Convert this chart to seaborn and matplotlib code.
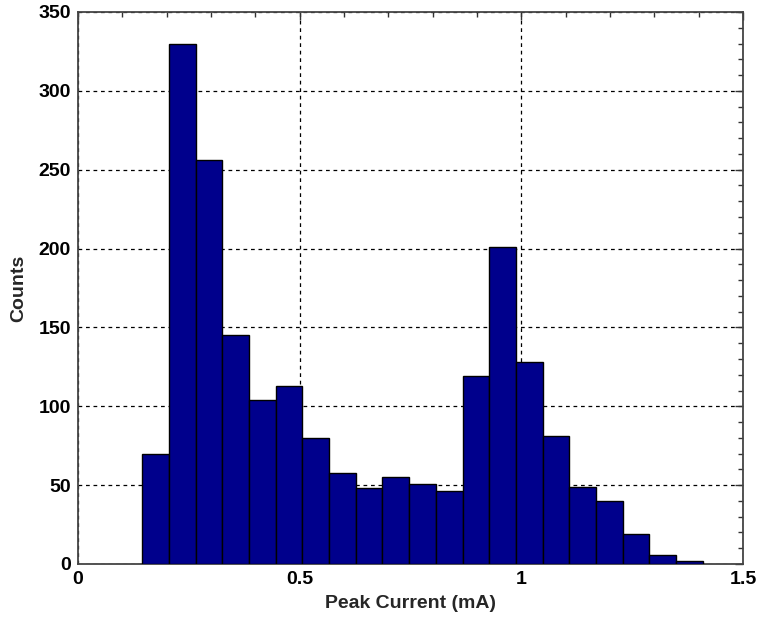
import numpy as np
import pandas as pd
import matplotlib
matplotlib.use("Agg")
import matplotlib.pyplot as plt
import seaborn as sns
from matplotlib.ticker import MultipleLocator

# Data
bin_start = 0.145
bin_width = 0.0602
counts = [70, 330, 256, 145, 104, 113, 80, 58, 48, 55, 51, 46,
          119, 201, 128, 81, 49, 40, 19, 6, 2]

edges = bin_start + bin_width * np.arange(len(counts) + 1)
centers = (edges[:-1] + edges[1:]) / 2
df = pd.DataFrame({"current": centers, "count": counts})

sns.set_style("white")
plt.rcParams['font.family'] = ['Liberation Sans', 'DejaVu Sans']

fig = plt.figure(figsize=(7.6, 6.17), dpi=100)
ax = fig.add_axes([78/760, 53/617, 665/760, 552/617])

sns.histplot(data=df, x="current", weights="count",
             binwidth=bin_width, binrange=(float(edges[0]), float(edges[-1])), ax=ax,
             color="#00008C", edgecolor="black", linewidth=1.0, alpha=1.0,
             zorder=3)

ax.set_xlim(0, 1.5)
ax.set_ylim(0, 350)
ax.xaxis.set_minor_locator(MultipleLocator(0.1))
ax.yaxis.set_major_locator(MultipleLocator(50))
ax.yaxis.set_minor_locator(MultipleLocator(10))
ax.set_xticks([0, 0.5, 1.0, 1.5])
ax.set_xticklabels(["0", "0.5", "1", "1.5"])

ax.grid(True, which="major", color="black", linestyle=(0, (3, 3)), linewidth=0.9, zorder=0)
ax.set_axisbelow(True)

ax.tick_params(which="both", direction="in", top=True, right=True,
               labelsize=14, width=1.0, colors="#333333", labelcolor="black")
ax.tick_params(which="major", length=6)
ax.tick_params(which="minor", length=3.5)
ax.tick_params(axis="x", which="major", pad=5)
ax.tick_params(axis="y", which="major", pad=5)
for lbl in ax.get_xticklabels() + ax.get_yticklabels():
    lbl.set_fontweight("bold")

for s in ax.spines.values():
    s.set_color("#444444")
    s.set_linewidth(1.3)

ax.set_xlabel("Peak Current (mA)", fontsize=14, fontweight="bold", labelpad=5)
ax.set_ylabel("Counts", fontsize=14, fontweight="bold", labelpad=8)

fig.savefig("out.png", dpi=100)
